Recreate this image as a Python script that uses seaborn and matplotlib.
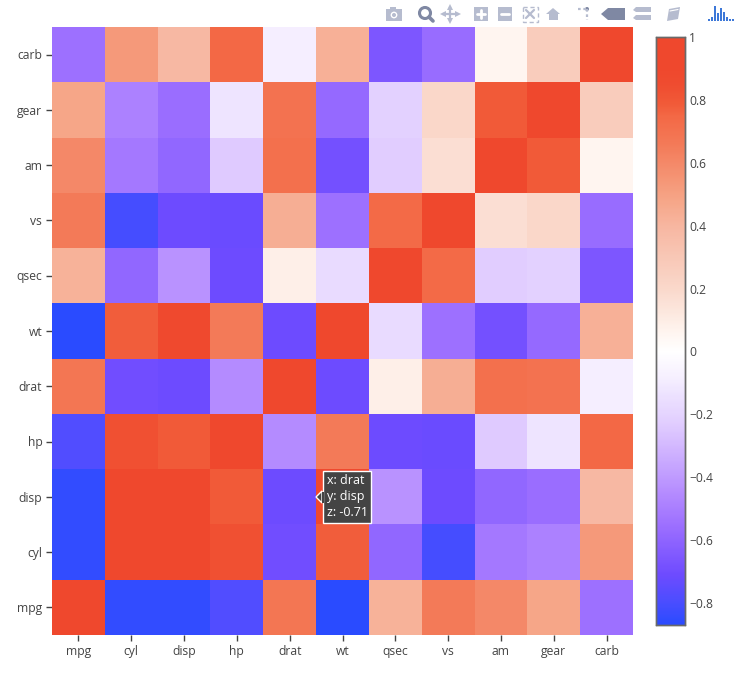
import matplotlib
matplotlib.use("Agg")
import matplotlib.pyplot as plt
import numpy as np
import pandas as pd
import seaborn as sns
from matplotlib.colors import LinearSegmentedColormap
from matplotlib.patches import Polygon, Rectangle, Circle
from matplotlib.transforms import ScaledTranslation

# columns go left to right, rows are listed top to bottom like in the picture
x_labels = ["mpg", "cyl", "disp", "hp", "drat", "wt", "qsec", "vs", "am", "gear", "carb"]
y_labels = ["carb", "gear", "am", "vs", "qsec", "wt", "drat", "hp", "disp", "cyl", "mpg"]

carb = [-0.55, 0.53, 0.39, 0.75, -0.09, 0.43, -0.66, -0.57, 0.06, 0.27, 1]
gear = [0.48, -0.49, -0.56, -0.13, 0.70, -0.58, -0.21, 0.21, 0.79, 1, 0.27]
am = [0.60, -0.52, -0.59, -0.24, 0.71, -0.69, -0.23, 0.17, 1, 0.79, 0.06]
vs = [0.66, -0.81, -0.71, -0.72, 0.44, -0.55, 0.74, 1, 0.17, 0.21, -0.57]
qsec = [0.42, -0.59, -0.43, -0.71, 0.09, -0.17, 1, 0.74, -0.23, -0.21, -0.66]
wt = [-0.87, 0.78, 0.89, 0.66, -0.71, 1, -0.17, -0.55, -0.69, -0.58, 0.43]
drat = [0.68, -0.70, -0.71, -0.45, 1, -0.71, 0.09, 0.44, 0.71, 0.70, -0.09]
hp = [-0.78, 0.83, 0.79, 1, -0.45, 0.66, -0.71, -0.72, -0.24, -0.13, 0.75]
disp = [-0.85, 0.90, 1, 0.79, -0.71, 0.89, -0.43, -0.71, -0.59, -0.56, 0.39]
cyl = [-0.85, 1, 0.90, 0.83, -0.70, 0.78, -0.59, -0.81, -0.52, -0.49, 0.53]
mpg = [1, -0.85, -0.85, -0.78, 0.68, -0.87, 0.42, 0.66, 0.60, 0.48, -0.55]

cbar_ticks = [-0.8, -0.6, -0.4, -0.2, 0, 0.2, 0.4, 0.6, 0.8, 1]
hover_text = "x: drat\ny: disp\nz: -0.71"

corr = pd.DataFrame([carb, gear, am, vs, qsec, wt, drat, hp, disp, cyl, mpg],
                    index=y_labels, columns=x_labels)

# colour ramp picked off the colour bar and the cells
vmin, vmax = -0.87, 1.0
ramp = [(-0.87, "#2a4bff"), (-0.80, "#4a4dff"), (-0.71, "#6e4bff"), (-0.56, "#9b6eff"),
        (-0.45, "#b58cff"), (-0.23, "#e1cdff"), (-0.13, "#eee4ff"), (-0.09, "#f5eeff"),
        (0, "#ffffff"), (0.06, "#fff5f0"), (0.19, "#fadacd"), (0.39, "#f7b8a3"),
        (0.48, "#f6a688"), (0.66, "#f37a58"), (0.75, "#f36845"), (0.79, "#f15a38"),
        (0.85, "#ef4c30"), (0.90, "#ef482d"), (1.0, "#ef482d")]
cmap = LinearSegmentedColormap.from_list(
    "corr", [((v - vmin) / (vmax - vmin), c) for v, c in ramp], N=512)

sns.set_theme(style="white")
plt.rcParams["font.family"] = ["Open Sans", "DejaVu Sans"]
text_col = "#444444"
W, H = 744, 677

fig = plt.figure(figsize=(W / 100, H / 100), dpi=100)
ax = fig.add_axes([52 / W, 1 - 635 / H, 581 / W, 608 / H])
cax = fig.add_axes([655.5 / W, 1 - 625 / H, 29.5 / W, 588 / H])

sns.heatmap(corr, ax=ax, cmap=cmap, vmin=vmin, vmax=vmax, cbar_ax=cax,
            cbar_kws={"ticks": cbar_ticks}, linewidths=0)

ax.tick_params(axis="both", length=4, width=1, color=text_col, labelcolor=text_col,
               labelsize=8.7, pad=3, bottom=True, left=True)
ax.tick_params(axis="x", labelrotation=0, pad=3)
ax.tick_params(axis="y", labelrotation=0)
ax.set_xlabel("")
ax.set_ylabel("")

# nudge the row labels a pixel down
nudge = ScaledTranslation(0, -1.2 / 100, fig.dpi_scale_trans)
for lab in ax.get_yticklabels():
    lab.set_transform(lab.get_transform() + nudge)

cax.tick_params(length=0, pad=3, labelsize=8.7, labelcolor=text_col)
cax.set_yticklabels(["\u22120.8", "\u22120.6", "\u22120.4", "\u22120.2", "0",
                     "0.2", "0.4", "0.6", "0.8", "1"])
for s in cax.spines.values():
    s.set_visible(True)
    s.set_color("#6a6a6a")
    s.set_linewidth(1.0)
    s.set_zorder(10)

# hover label on the drat / disp cell
ax.annotate(hover_text, xy=(5.0, 8.5), xycoords="data", xytext=(7.5, 0),
            textcoords="offset points", ha="left", va="center", color="white",
            fontsize=9, linespacing=1.3, zorder=6,
            bbox=dict(boxstyle="square,pad=0.3", fc="#444444", ec="white", lw=1))

# modebar icons drawn on a pixel overlay
ov = fig.add_axes([0, 0, 1, 1], zorder=5)
ov.set_xlim(0, W)
ov.set_ylim(H, 0)
ov.axis("off")
ov.patch.set_alpha(0)
light = "#b6bccf"
dark = "#7f88a3"

ov.add_patch(Polygon([(316, 497), (322, 491), (322, 503)], fc="#444444", ec="white", lw=1))
ov.add_patch(Rectangle((321.5, 491.5), 2, 11, fc="#444444", ec="none"))

# camera
ov.add_patch(Rectangle((386, 9), 16, 12, fc=light, ec="none"))
ov.add_patch(Rectangle((390, 7), 6, 3, fc=light, ec="none"))
ov.add_patch(Circle((394, 15), 3.4, fc="white", ec="none"))
ov.add_patch(Circle((394, 15), 2, fc=light, ec="none"))
# zoom
ov.add_patch(Circle((425, 13), 5.5, fc="none", ec=dark, lw=2.2))
ov.plot([429, 433], [17, 21], color=dark, lw=2.6)
# pan
ov.plot([443, 458], [14, 14], color=light, lw=1.6)
ov.plot([450, 450], [7, 21], color=light, lw=1.6)
for mx, my, mk in [(443, 14, "<"), (458, 14, ">"), (450, 7, "^"), (450, 21, "v")]:
    ov.plot(mx, my, marker=mk, ms=4, color=light, mew=0)
# zoom in, zoom out
ov.add_patch(Rectangle((474, 7), 14, 14, fc=light, ec="none"))
ov.plot([477, 485], [14, 14], color="white", lw=2)
ov.plot([481, 481], [10, 18], color="white", lw=2)
ov.add_patch(Rectangle((498, 7), 14, 14, fc=light, ec="none"))
ov.plot([501, 509], [14, 14], color="white", lw=2)
# autoscale
ov.add_patch(Rectangle((522.5, 6.5), 15, 15, fc="none", ec=light, lw=1, ls=(0, (3, 2))))
ov.plot([526, 534], [10, 18], color=light, lw=1.6)
ov.plot([526, 534], [18, 10], color=light, lw=1.6)
# home
ov.add_patch(Polygon([(546, 14), (553, 8), (560, 14)], fc=light, ec="none"))
ov.add_patch(Rectangle((548.5, 14), 9, 6, fc=light, ec="none"))
# spikelines
ov.plot([578, 587], [9, 9], color=light, lw=1.6, ls=(0, (1.2, 1.2)))
ov.plot([587, 587], [9, 20], color=light, lw=1.6, ls=(0, (1.2, 1.2)))
ov.add_patch(Circle((587, 9), 2, fc=dark, ec="none"))
# closest / compare hover
ov.add_patch(Polygon([(601, 14), (608, 8), (625, 8), (625, 20), (608, 20)], fc=dark, ec="none"))
ov.add_patch(Polygon([(633, 10), (636, 7), (651, 7), (651, 12), (636, 12)], fc=light, ec="none"))
ov.add_patch(Polygon([(633, 18), (636, 15), (651, 15), (651, 20), (636, 20)], fc=light, ec="none"))
# book
ov.add_patch(Polygon([(669, 9), (680, 7), (678, 19), (667, 21)], fc=light, ec="none"))
ov.plot([670, 678], [11, 9.5], color="white", lw=0.8)
# plotly logo bars
logo_x = [709, 712, 715, 718, 721, 724, 727, 730, 733]
logo_h = [2, 4, 15, 8, 13, 9, 4, 2, 2]
for lx, lh in zip(logo_x, logo_h):
    ov.add_patch(Rectangle((lx - 1, 21 - lh), 2.2, lh, fc="#3d78d8", ec="none"))

fig.savefig("out.png", dpi=100, facecolor="white")
